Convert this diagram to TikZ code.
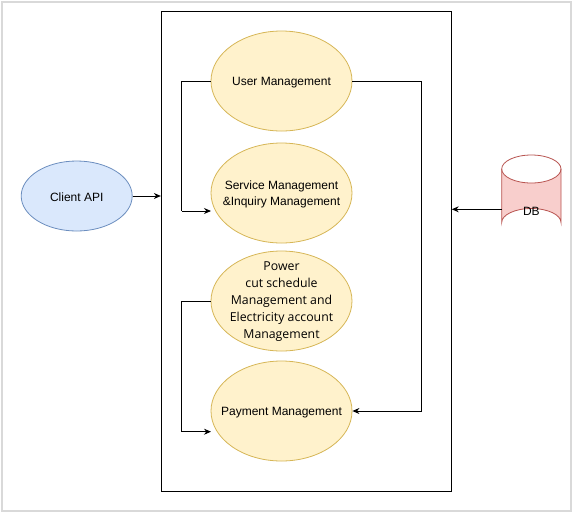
\documentclass[tikz,border=0pt]{standalone}
\usepackage{fontspec}
\setmainfont{Liberation Sans}
\newfontfamily\powerfont{Open Sans}
\usetikzlibrary{shapes.geometric,arrows.meta}
\definecolor{yfill}{HTML}{FFF2CC}
\definecolor{ystroke}{HTML}{D6B656}
\definecolor{bfill}{HTML}{DAE8FC}
\definecolor{bstroke}{HTML}{6C8EBF}
\definecolor{rfill}{HTML}{F8CECC}
\definecolor{rstroke}{HTML}{B85450}
\definecolor{framegray}{HTML}{D9D9D9}
\begin{document}
\begin{tikzpicture}[x=1pt,y=-1pt,
  usecase/.style={ellipse,draw=ystroke,fill=yfill,line width=0.8pt,minimum width=141pt,minimum height=100pt,inner sep=0pt},
  lbl/.style={align=center,inner sep=0pt,yshift=-1.5pt,font=\fontsize{12}{15.3}\selectfont},
  plbl/.style={align=center,inner sep=0pt,yshift=-1pt,font=\powerfont\fontsize{12.3}{17}\selectfont},
  conn/.style={draw=black,line width=0.9pt,-{Stealth[length=7pt,width=6pt]}},
  seg/.style={draw=black,line width=0.9pt}]
\useasboundingbox (0,0) rectangle (572,512);
\fill[white] (0,0) rectangle (572,512);
\draw[framegray,line width=2pt] (1.5,1.5) rectangle (570.5,510.5);
\node[draw=black,line width=0.9pt,minimum width=290pt,minimum height=480pt,inner sep=0pt] (sys) at (306.3,251) {};
\node[usecase,label={[lbl]center:User Management}] (um) at (281.5,81) {};
\node[usecase,label={[lbl]center:Service Management\\\&Inquiry Management}] (sm) at (281.5,193) {};
\node[usecase,label={[plbl]center:Power\\cut schedule\\Management and\\Electricity account\\Management}] (pm) at (281.5,301) {};
\node[usecase,label={[lbl]center:Payment Management}] (pay) at (281.5,411) {};
\node[ellipse,draw=bstroke,fill=bfill,line width=0.8pt,minimum width=111pt,minimum height=70pt,inner sep=0pt,label={[lbl]center:Client API}] (api) at (76.7,196) {};
% DB cylinder
\fill[rfill] (501.7,169) -- (501.7,222.5) arc[start angle=180,end angle=360,x radius=29.65,y radius=14] -- (561,169) arc[start angle=0,end angle=180,x radius=29.65,y radius=14] -- cycle;
\draw[rstroke,line width=0.8pt] (501.7,169) -- (501.7,222.5) arc[start angle=180,end angle=360,x radius=29.65,y radius=14] -- (561,169);
\draw[rstroke,line width=0.8pt] (531.35,169) ellipse[x radius=29.65,y radius=14];
\node[lbl] (db) at (531.35,209.5) {DB};
\coordinate (dbl) at (501.7,209.3);
% connectors
\draw[conn] (api.east) -- (sys.west |- api.east);
\draw[conn] (dbl) -- (sys.east |- dbl);
\coordinate (c1) at (181.7,81);
\coordinate (c2) at (181.7,211);
\coordinate (smin) at (211,211);
\draw[seg] (um.west) -- (c1) -- (c2);
\draw[conn] (c2) -- (smin);
\coordinate (c3) at (421.7,81);
\coordinate (c4) at (421.7,411);
\draw[seg] (um.east) -- (c3) -- (c4);
\draw[conn] (c4) -- (pay.east);
\coordinate (c5) at (181.7,301);
\coordinate (c6) at (181.7,431.7);
\coordinate (payin) at (211,431.7);
\draw[seg] (pm.west) -- (c5) -- (c6);
\draw[conn] (c6) -- (payin);
\end{tikzpicture}
\end{document}
